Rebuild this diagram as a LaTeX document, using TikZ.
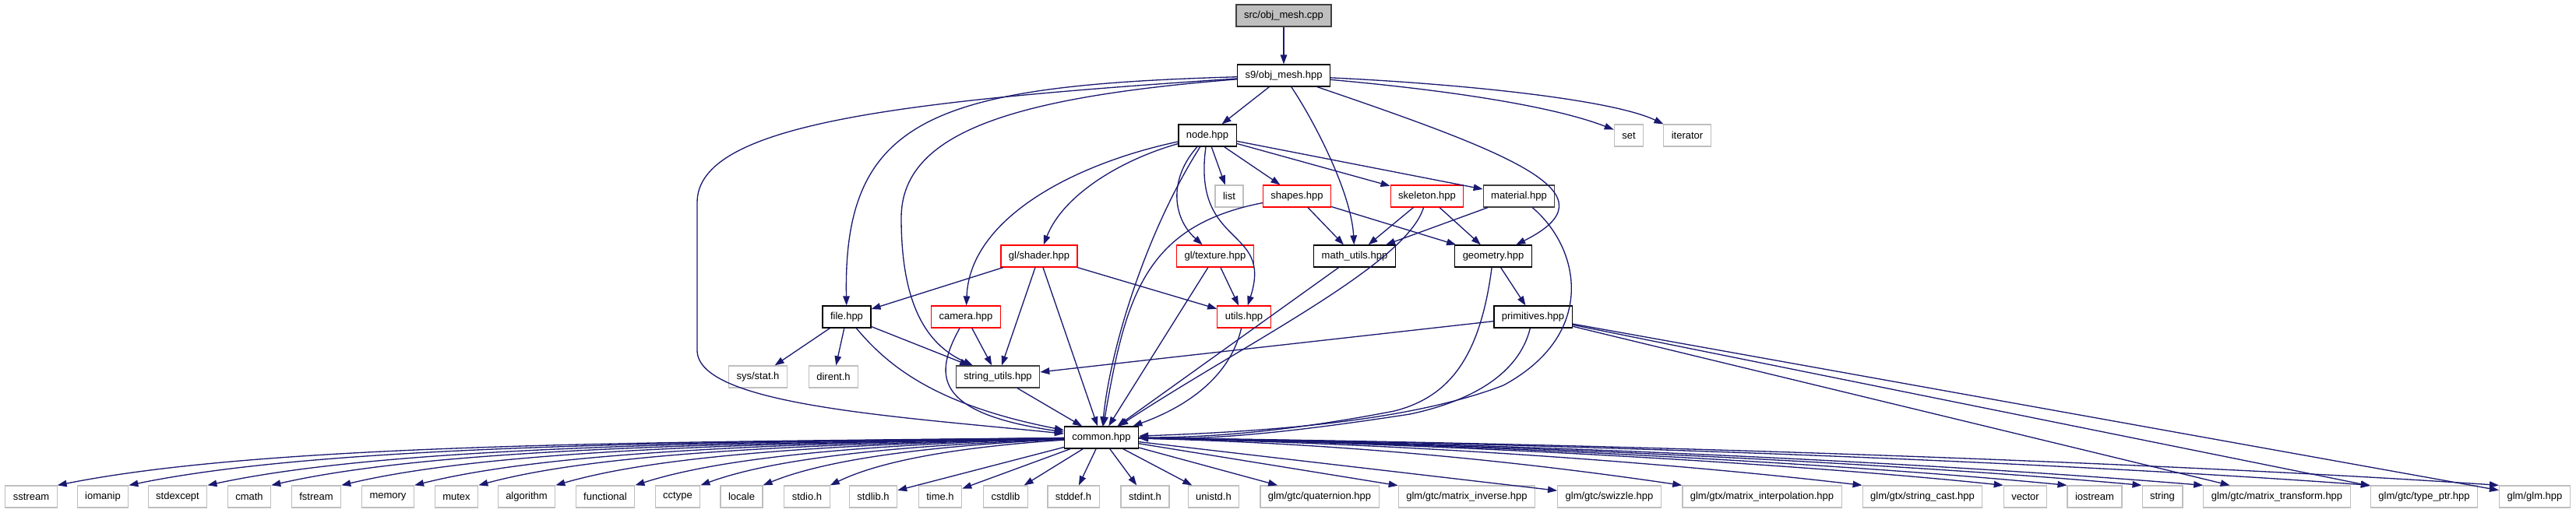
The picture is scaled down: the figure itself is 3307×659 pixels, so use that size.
\documentclass[tikz,border=0pt]{standalone}
\usepackage{fontspec}
\setmainfont{Liberation Sans}
\usepackage{xcolor}
\usepackage{tikz}
\usetikzlibrary{arrows.meta}
\definecolor{edgeblue}{HTML}{191970}
\definecolor{sysgray}{HTML}{BFBFBF}
\definecolor{docgray}{HTML}{404040}
\definecolor{cut}{HTML}{FF0000}
\tikzset{
  hdr/.style  ={rectangle, draw=black, fill=white, line width=0.7pt, minimum height=0.56cm, inner xsep=0.2cm, inner ysep=1pt, font=\fontsize{7.4}{9}\selectfont},
  hdrd/.style ={hdr, draw=docgray},
  trunc/.style={hdr, draw=cut},
  sys/.style  ={hdr, draw=sysgray},
  root/.style ={hdr, draw=docgray, fill=sysgray},
  inc/.style  ={-{Triangle[length=0.24cm, width=0.17cm]}, line width=0.75pt, edgeblue},
}

\begin{document}
\begin{tikzpicture}[x=0.02cm, y=-0.02cm]
  \useasboundingbox (0,0) rectangle (3307,659);
  % headers of the project
  \node[root]  (cpp)     at (1648,20)  {src/obj\_mesh.cpp};
  \node[hdr]   (objh)    at (1648,97)  {s9/obj\_mesh.hpp};
  \node[hdr]   (nodeh)   at (1550,174) {node.hpp};
  \node[sys]   (setlib)  at (2091,174) {set};
  \node[sys]   (iter)    at (2166,174) {iterator};
  \node[sys]   (list)    at (1578,252) {list};
  \node[trunc] (shapes)  at (1665,252) {shapes.hpp};
  \node[trunc] (skel)    at (1832,252) {skeleton.hpp};
  \node[hdrd]  (mat)     at (1950,252) {material.hpp};
  \node[trunc] (shader)  at (1334,329) {gl/shader.hpp};
  \node[trunc] (tex)     at (1560,329) {gl/texture.hpp};
  \node[hdr]   (mathu)   at (1739,329) {math\_utils.hpp};
  \node[hdr]   (geom)    at (1917,329) {geometry.hpp};
  \node[hdr]   (filep)   at (1087,407) {file.hpp};
  \node[trunc] (cam)     at (1240,407) {camera.hpp};
  \node[trunc] (utils)   at (1597,407) {utils.hpp};
  \node[hdr]   (prim)    at (1968,407) {primitives.hpp};
  \node[sys]   (stat)    at (973,484)  {sys/stat.h};
  \node[sys]   (dirent)  at (1070,484) {dirent.h};
  \node[hdrd]  (strutil) at (1281,484) {string\_utils.hpp};
  \node[hdr]   (common)  at (1414,562) {common.hpp};
  % system headers
  \node[sys] (sstream)  at (40,638)   {sstream};
  \node[sys] (iomanip)  at (132,638)  {iomanip};
  \node[sys] (stdexc)   at (228,638)  {stdexcept};
  \node[sys] (cmath)    at (320,638)  {cmath};
  \node[sys] (fstream)  at (406,638)  {fstream};
  \node[sys] (memory)   at (498,638)  {memory};
  \node[sys] (mutex)    at (586,638)  {mutex};
  \node[sys] (algo)     at (676,638)  {algorithm};
  \node[sys] (func)     at (777,638)  {functional};
  \node[sys] (cctype)   at (870,638)  {cctype};
  \node[sys] (locale)   at (952,638)  {locale};
  \node[sys] (stdio)    at (1036,638) {stdio.h};
  \node[sys] (stdlib)   at (1121,638) {stdlib.h};
  \node[sys] (timeh)    at (1207,638) {time.h};
  \node[sys] (cstdlib)  at (1291,638) {cstdlib};
  \node[sys] (stddef)   at (1378,638) {stddef.h};
  \node[sys] (stdint)   at (1470,638) {stdint.h};
  \node[sys] (unistd)   at (1558,638) {unistd.h};
  \node[sys] (quat)     at (1694,638) {glm/gtc/quaternion.hpp};
  \node[sys] (minv)     at (1883,638) {glm/gtc/matrix\_inverse.hpp};
  \node[sys] (swiz)     at (2066,638) {glm/gtc/swizzle.hpp};
  \node[sys] (minterp)  at (2262,638) {glm/gtx/matrix\_interpolation.hpp};
  \node[sys] (strcast)  at (2468,638) {glm/gtx/string\_cast.hpp};
  \node[sys] (vector)   at (2600,638) {vector};
  \node[sys] (iostream) at (2689,638) {iostream};
  \node[sys] (string)   at (2776,638) {string};
  \node[sys] (mtrans)   at (2923,638) {glm/gtc/matrix\_transform.hpp};
  \node[sys] (typeptr)  at (3112,638) {glm/gtc/type\_ptr.hpp};
  \node[sys] (glm)      at (3254,638) {glm/glm.hpp};

  % obj_mesh
  \draw[inc] (cpp) -- (objh);
  \draw[inc] (objh) -- (nodeh);
  \draw[inc] (objh) .. controls (1690,160) and (1735,250) .. (mathu);
  \draw[inc] (objh) .. controls (1950,200) and (2075,250) .. (geom);
  \draw[inc] (objh) .. controls (1850,115) and (1990,135) .. (setlib);
  \draw[inc] (objh) .. controls (1880,108) and (2070,128) .. (iter);
  \draw[inc] (objh) .. controls (1200,110) and (1082,150) .. (filep);
  \draw[inc] (objh) .. controls (1300,125) and (1157,170) .. (1157,280) .. controls (1157,400) and (1195,445) .. (strutil);
  \draw[inc] (objh) .. controls (1150,130) and (895,160) .. (895,260) -- (895,450) .. controls (895,520) and (1150,535) .. (common);
  % node
  \draw[inc] (nodeh) -- (list);
  \draw[inc] (nodeh) -- (shapes);
  \draw[inc] (nodeh) -- (skel);
  \draw[inc] (nodeh) -- (mat);
  \draw[inc] (nodeh) .. controls (1440,205) and (1365,250) .. (shader);
  \draw[inc] (nodeh) .. controls (1380,210) and (1245,280) .. (cam);
  \draw[inc] (nodeh) .. controls (1470,300) and (1425,450) .. (common);
  \draw[inc] (nodeh) .. controls (1500,230) and (1505,280) .. (tex);
  \draw[inc] (nodeh) .. controls (1530,320) and (1635,290) .. (utils);
  % shapes, skeleton, material
  \draw[inc] (shapes) .. controls (1470,290) and (1445,380) .. (common);
  \draw[inc] (shapes) -- (mathu);
  \draw[inc] (shapes) -- (geom);
  \draw[inc] (skel) -- (mathu);
  \draw[inc] (skel) -- (geom);
  \draw[inc] (skel) .. controls (1805,340) and (1600,440) .. (common);
  \draw[inc] (mat) -- (mathu);
  \draw[inc] (mat) .. controls (2030,320) and (2050,430) .. (1930,495) .. controls (1800,545) and (1600,555) .. (common);
  % math, geometry, primitives
  \draw[inc] (mathu) -- (common);
  \draw[inc] (geom) -- (prim);
  \draw[inc] (geom) .. controls (1900,460) and (1860,510) .. (1790,528) .. controls (1650,555) and (1550,562) .. (common);
  \draw[inc] (prim) .. controls (1950,480) and (1890,515) .. (1810,532) .. controls (1660,555) and (1560,565) .. (common);
  \draw[inc] (prim) -- (strutil);
  \draw[inc] (prim) -- (mtrans);
  \draw[inc] (prim) -- (typeptr);
  \draw[inc] (prim) -- (glm);
  % gl, camera, utils
  \draw[inc] (tex) -- (common);
  \draw[inc] (tex) -- (utils);
  \draw[inc] (shader) -- (filep);
  \draw[inc] (shader) -- (strutil);
  \draw[inc] (shader) -- (common);
  \draw[inc] (shader) -- (utils);
  \draw[inc] (cam) -- (strutil);
  \draw[inc] (cam) .. controls (1200,480) and (1195,530) .. (common);
  \draw[inc] (utils) .. controls (1580,480) and (1530,520) .. (common);
  % file, string_utils
  \draw[inc] (filep) -- (stat);
  \draw[inc] (filep) -- (dirent);
  \draw[inc] (filep) -- (strutil);
  \draw[inc] (filep) .. controls (1140,470) and (1200,520) .. (common);
  \draw[inc] (strutil) -- (common);
  % common
  \draw[inc] (common) .. controls +(-550,6) and +(275,-55) .. (sstream.north east);
  \draw[inc] (common) .. controls +(-513,6) and +(256,-53) .. (iomanip.north east);
  \draw[inc] (common) .. controls +(-474,6) and +(237,-51) .. (stdexc.north east);
  \draw[inc] (common) .. controls +(-438,7) and +(219,-50) .. (cmath.north east);
  \draw[inc] (common) .. controls +(-403,7) and +(202,-48) .. (fstream.north east);
  \draw[inc] (common) .. controls +(-366,7) and +(183,-46) .. (memory.north east);
  \draw[inc] (common) .. controls +(-331,8) and +(166,-45) .. (mutex.north east);
  \draw[inc] (common) .. controls +(-295,8) and +(148,-43) .. (algo.north east);
  \draw[inc] (common) .. controls +(-255,8) and +(127,-41) .. (func.north east);
  \draw[inc] (common) .. controls +(-218,9) and +(109,-40) .. (cctype.north east);
  \draw[inc] (common) .. controls +(-185,9) and +(92,-38) .. (locale.north east);
  \draw[inc] (common) .. controls +(-151,10) and +(76,-37) .. (stdio.north east);
  \draw[inc] (common) -- (stdlib);
  \draw[inc] (common) -- (timeh);
  \draw[inc] (common) -- (cstdlib);
  \draw[inc] (common) -- (stddef);
  \draw[inc] (common) -- (stdint);
  \draw[inc] (common) -- (unistd);
  \draw[inc] (common) -- (quat);
  \draw[inc] (common) -- (minv);
  \draw[inc] (common) -- (swiz);
  \draw[inc] (common) .. controls +(339,8) and +(-170,-25) .. (minterp.north west);
  \draw[inc] (common) .. controls +(422,8) and +(-211,-25) .. (strcast.north west);
  \draw[inc] (common) .. controls +(474,8) and +(-237,-25) .. (vector.north west);
  \draw[inc] (common) .. controls +(510,8) and +(-255,-25) .. (iostream.north west);
  \draw[inc] (common) .. controls +(545,8) and +(-272,-25) .. (string.north west);
  \draw[inc] (common) .. controls +(604,8) and +(-302,-25) .. (mtrans.north west);
  \draw[inc] (common) .. controls +(679,8) and +(-340,-25) .. (typeptr.north west);
  \draw[inc] (common) .. controls +(736,8) and +(-368,-25) .. (glm.north west);
\end{tikzpicture}
\end{document}
